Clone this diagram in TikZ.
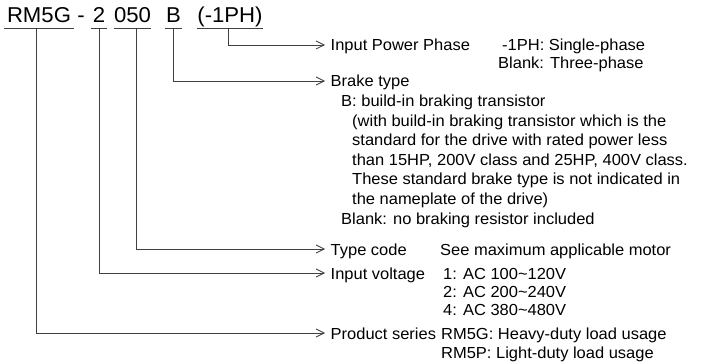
\documentclass[tikz,border=0pt]{standalone}
\usepackage{fontspec}
\setmainfont{Liberation Sans}[FakeStretch=1.03]
\usepackage{tikz}
\usetikzlibrary{arrows.meta}
\usepackage{xcolor}

\begin{document}
\begin{tikzpicture}[x=1pt,y=-1pt]
\tikzstyle{wire}=[line width=0.8pt,draw=black!75]
\tikzstyle{code}=[font=\fontsize{21.5}{24}\selectfont,anchor=base,text depth=0pt,inner xsep=0pt,inner ysep=5pt]
\tikzstyle{field}=[font=\fontsize{16}{19}\selectfont,anchor=base west,text height=12pt,text depth=0pt,inner xsep=5.5pt,inner ysep=0pt]
\tikzstyle{info}=[font=\fontsize{16}{19}\selectfont,anchor=base west,inner sep=0pt]
\tikzset{>={Straight Barb[length=8pt,width=8pt]}}

\useasboundingbox (0,0) rectangle (711,363);

% model code
\node [code,minimum width=69pt] (cser) at (39,23) {RM5G};
\node [code] (cdash) at (81,23) {-};
\node [code,minimum width=16pt] (cvolt) at (99,23) {2};
\node [code,minimum width=31pt] (ctype) at (132.5,23) {050};
\node [code,minimum width=17pt] (cbrk) at (173.5,23) {B};
\node [code,minimum width=66pt] (cphase) at (230,23) {(-1PH)};

\foreach \n in {cser,cvolt,ctype,cbrk,cphase}
    \draw[wire] (\n.south west) -- (\n.south east);

% fields
\node [field] (fphase) at (325,51) {Input Power Phase};
\node [field] (fbrk) at (325,87) {Brake type};
\node [field] (ftype) at (325,255) {Type code};
\node [field] (fvolt) at (325,279) {Input voltage};
\node [field] (fser) at (325,339) {Product series};

% meanings
\node [info] (p1) at (502,51) {-1PH: Single-phase};
\node [info] (p2) at (498,69) {Blank: Three-phase};
\node [info] (b1) at (341,106.6) {B: build-in braking transistor};
\node [info] (b2) at (352,126.2) {(with build-in braking transistor which is the};
\node [info] (b3) at (352,145.8) {standard for the drive with rated power less};
\node [info] (b4) at (352,165.4) {than 15HP, 200V class and 25HP, 400V class.};
\node [info] (b5) at (352,185) {These standard brake type is not indicated in};
\node [info] (b6) at (352,204.6) {the nameplate of the drive)};
\node [info] (b7) at (341,224.2) {Blank: no braking resistor included};
\node [info] (t1) at (440,255) {See maximum applicable motor};
\node [info] (v1) at (443,279) {1: AC 100\textasciitilde120V};
\node [info] (v2) at (443,297) {2: AC 200\textasciitilde240V};
\node [info] (v3) at (443,315) {4: AC 380\textasciitilde480V};
\node [info] (s1) at (441,339) {RM5G: Heavy-duty load usage};
\node [info] (s2) at (441,358) {RM5P: Light-duty load usage};

\draw[wire,->] ([xshift=-2pt]cphase.south) |- (fphase.west);
\draw[wire,->] (cbrk.south) |- (fbrk.west);
\draw[wire,->] ([xshift=3.5pt]ctype.south) |- (ftype.west);
\draw[wire,->] (cvolt.south) |- (fvolt.west);
\draw[wire,->] ([xshift=-3pt]cser.south) |- (fser.west);
\end{tikzpicture}
\end{document}
